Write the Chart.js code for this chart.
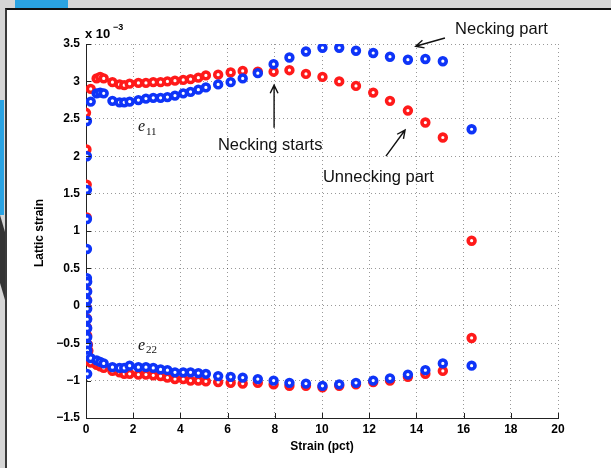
<!DOCTYPE html>
<html>
<head>
<meta charset="utf-8">
<script src="https://cdn.jsdelivr.net/npm/chart.js@4.4.1/dist/chart.umd.min.js"></script>
<style>
  html, body { margin: 0; padding: 0; }
  body { width: 611px; height: 468px; background: #d6d6d6; position: relative; overflow: hidden; }
  .tab { position: absolute; left: 15px; top: 0; width: 53px; height: 8px; background: #2aa3e2; }
  .side-blue { position: absolute; left: 0; top: 100px; width: 4px; height: 115px; background: #2aa3e2; }
  .side-dark { position: absolute; left: 0; top: 215px; width: 5px; height: 85px; background: #333;
    clip-path: polygon(0 0, 100% 20%, 100% 100%, 0 80%); }
  .panel { position: absolute; left: 5px; top: 8px; right: 0; bottom: 0; background: #fff;
    border-top: 2px solid #111; border-left: 2px solid #3a3a3a; }
  #chart { position: absolute; left: 0; top: 0; }
</style>
</head>
<body>
<div class="tab"></div>
<div class="side-blue"></div>
<div class="side-dark"></div>
<div class="panel"></div>
<canvas id="chart" width="611" height="468"></canvas>
<script>
"use strict";
// data (lattice strain in units of 1e-3)
const strain = [0.2, 0.45, 0.6, 0.75, 1.12, 1.42, 1.62, 1.85, 2.22, 2.54, 2.85, 3.16, 3.45, 3.77,
  4.12, 4.43, 4.76, 5.08, 5.6, 6.13, 6.64, 7.28, 7.95, 8.62, 9.32, 10.02, 10.73, 11.44, 12.17,
  12.88, 13.64, 14.38, 15.12, 16.34];
const e11Red = [2.90, 3.04, 3.06, 3.04, 2.99, 2.96, 2.95, 2.97, 2.98, 2.98, 2.99, 2.99, 3.00, 3.01,
  3.02, 3.03, 3.05, 3.08, 3.09, 3.12, 3.14, 3.13, 3.13, 3.15, 3.10, 3.06, 3.00, 2.94, 2.85,
  2.74, 2.61, 2.45, 2.25, 0.87];
const e11Blue = [2.73, 2.84, 2.85, 2.84, 2.74, 2.72, 2.72, 2.73, 2.75, 2.77, 2.78, 2.78, 2.79, 2.81,
  2.84, 2.86, 2.89, 2.92, 2.96, 2.99, 3.04, 3.11, 3.23, 3.32, 3.40, 3.45, 3.45, 3.41, 3.38,
  3.33, 3.29, 3.30, 3.27, 2.36];
const e22Red = [-0.76, -0.79, -0.81, -0.83, -0.87, -0.89, -0.91, -0.91, -0.92, -0.92, -0.93, -0.94,
  -0.96, -0.98, -0.98, -1.00, -1.00, -1.01, -1.02, -1.03, -1.04, -1.03, -1.05, -1.07, -1.07,
  -1.09, -1.07, -1.05, -1.02, -1.00, -0.95, -0.91, -0.87, -0.43];
const e22Blue = [-0.70, -0.73, -0.75, -0.77, -0.82, -0.83, -0.83, -0.80, -0.82, -0.82, -0.83, -0.85,
  -0.86, -0.89, -0.89, -0.89, -0.90, -0.91, -0.94, -0.95, -0.96, -0.98, -1.00, -1.03, -1.04,
  -1.07, -1.05, -1.03, -1.00, -0.97, -0.92, -0.86, -0.77, -0.80];

// elastic loading column near zero strain
const elasticStrainRed = [0.0, 0.02, 0.03, 0.03, 0.04, 0.04, 0.04, 0.04, 0.04, 0.04, 0.05, 0.08, 0.1, 0.12, 0.15];
const elasticRed = [2.58, 2.09, 1.62, 1.18, 0.33, 0.20, 0.08, -0.03, -0.17, -0.29, -0.40, -0.52, -0.60, -0.68, -0.74];
const elasticStrainBlue = [0.04, 0.04, 0.04, 0.04, 0.04, 0.04, 0.05, 0.05, 0.05, 0.05, 0.05, 0.05, 0.05, 0.06, 0.06, 0.07, 0.05];
const elasticBlue = [2.47, 2.00, 1.55, 1.16, 0.76, 0.37, 0.32, 0.19, 0.07, -0.04, -0.18, -0.30, -0.42, -0.52, -0.60, -0.67, -0.91];

const xTicks = [0, 2, 4, 6, 8, 10, 12, 14, 16, 18, 20];
const yTicks = [-1.5, -1, -0.5, 0, 0.5, 1, 1.5, 2, 2.5, 3, 3.5];

const RED = "rgb(255,26,26)";
const BLUE = "rgb(14,52,248)";

function pts(xs, ys) {
  return xs.map((x, i) => ({ x: x, y: ys[i] }));
}

function series(label, data, color, order) {
  return {
    label: label,
    data: data,
    showLine: false,
    pointStyle: "circle",
    pointRadius: 3.4,
    pointHoverRadius: 3.4,
    pointBorderWidth: 3.6,
    pointBorderColor: color,
    pointBackgroundColor: "#fff",
    order: order,
  };
}

function fmt(v) {
  const s = String(Number(v.toFixed(1)));
  return s.replace("-", "\u2212");
}

function arrow(ctx, x1, y1, x2, y2) {
  const a = Math.atan2(y2 - y1, x2 - x1);
  const h = 9;
  ctx.beginPath();
  ctx.moveTo(x1, y1);
  ctx.lineTo(x2, y2);
  ctx.moveTo(x2 - h * Math.cos(a - 0.45), y2 - h * Math.sin(a - 0.45));
  ctx.lineTo(x2, y2);
  ctx.lineTo(x2 - h * Math.cos(a + 0.45), y2 - h * Math.sin(a + 0.45));
  ctx.stroke();
}

const overlay = {
  id: "overlay",
  afterDraw(chart) {
    const ctx = chart.ctx;
    const xs = chart.scales.x, ys = chart.scales.y;
    const area = chart.chartArea;
    const px = (v) => xs.getPixelForValue(v);
    const py = (v) => ys.getPixelForValue(v);
    ctx.save();

    // inward tick marks
    ctx.strokeStyle = "#222";
    ctx.lineWidth = 1;
    ctx.beginPath();
    xTicks.forEach((t) => {
      const x = Math.round(px(t)) + 0.5;
      ctx.moveTo(x, area.bottom);
      ctx.lineTo(x, area.bottom - 5);
    });
    yTicks.forEach((t) => {
      const y = Math.round(py(t)) + 0.5;
      ctx.moveTo(area.left, y);
      ctx.lineTo(area.left + 5, y);
    });
    ctx.stroke();

    // axis titles
    ctx.fillStyle = "#000";
    ctx.font = "bold 12px 'Liberation Sans', Arial, sans-serif";
    ctx.textAlign = "center";
    ctx.textBaseline = "middle";
    ctx.fillText("Strain (pct)", (area.left + area.right) / 2, 447);
    ctx.save();
    ctx.translate(40, 233);
    ctx.rotate(-Math.PI / 2);
    ctx.fillText("Lattic strain", 0, 0);
    ctx.restore();

    // exponent label
    ctx.textAlign = "left";
    ctx.textBaseline = "alphabetic";
    ctx.font = "bold 13px 'Liberation Sans', Arial, sans-serif";
    ctx.fillText("x 10", area.left - 1, 38);
    ctx.font = "bold 9px 'Liberation Sans', Arial, sans-serif";
    ctx.fillText("\u22123", area.left + 27, 30);

    // annotations
    ctx.fillStyle = "#111";
    ctx.font = "16.5px 'Liberation Sans', Arial, sans-serif";
    ctx.textBaseline = "middle";
    ctx.fillText("Necking part", px(15.64), py(3.69));
    ctx.fillText("Necking starts", px(5.59), py(2.14));
    ctx.fillText("Unnecking part", px(10.04), py(1.71));

    ctx.strokeStyle = "#111";
    ctx.lineWidth = 1.4;
    arrow(ctx, px(15.21), py(3.58), px(13.97), py(3.47));
    arrow(ctx, px(7.97), py(2.38), px(7.97), py(2.95));
    arrow(ctx, px(12.71), py(2.0), px(13.52), py(2.35));

    // e11 / e22 labels
    const sub = (x, y, s) => {
      ctx.font = "italic 16px 'Liberation Serif', serif";
      ctx.fillText("e", x, y);
      ctx.font = "11px 'Liberation Serif', serif";
      ctx.fillText(s, x + 8, y + 5);
    };
    sub(px(2.2), py(2.39), "11");
    sub(px(2.2), py(-0.53), "22");
    ctx.restore();
  },
};

const tickFont = { family: "'Liberation Sans', Arial, sans-serif", size: 12, weight: "bold" };

new Chart(document.getElementById("chart"), {
  type: "scatter",
  data: {
    datasets: [
      series("e22 blue", pts(strain, e22Blue), BLUE, 1),
      series("e11 blue", pts(strain, e11Blue), BLUE, 1),
      series("elastic blue", pts(elasticStrainBlue, elasticBlue), BLUE, 1),
      series("e22 red", pts(strain, e22Red), RED, 2),
      series("e11 red", pts(strain, e11Red), RED, 2),
      series("elastic red", pts(elasticStrainRed, elasticRed), RED, 2),
    ],
  },
  options: {
    responsive: false,
    animation: false,
    layout: { padding: { left: 0, top: 44, right: 53, bottom: 0 } },
    plugins: { legend: { display: false }, tooltip: { enabled: false } },
    scales: {
      x: {
        type: "linear",
        min: 0,
        max: 20,
        afterFit: (s) => { s.height = 50; },
        afterBuildTicks: (s) => { s.ticks = xTicks.map((v) => ({ value: v })); },
        ticks: { color: "#000", font: tickFont, padding: 4, callback: (v) => fmt(v), maxRotation: 0 },
        grid: { color: "rgba(0,0,0,0.4)", lineWidth: 1, drawTicks: false },
        border: { display: true, color: "#222", width: 1, dash: [1, 3] },
      },
      y: {
        type: "linear",
        min: -1.5,
        max: 3.5,
        afterFit: (s) => { s.width = 86; },
        afterBuildTicks: (s) => { s.ticks = yTicks.map((v) => ({ value: v })); },
        ticks: { color: "#000", font: tickFont, padding: 6, callback: (v) => fmt(v) },
        grid: { color: "rgba(0,0,0,0.4)", lineWidth: 1, drawTicks: false },
        border: { display: true, color: "#222", width: 1, dash: [1, 3] },
      },
    },
  },
  plugins: [overlay],
});
</script>
</body>
</html>
